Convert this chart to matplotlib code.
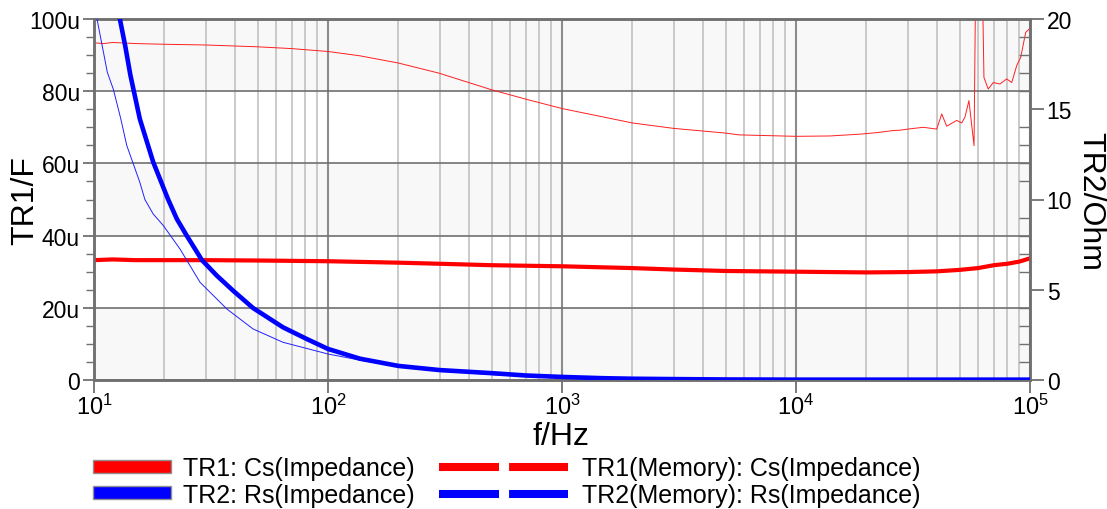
import numpy as np
import matplotlib
matplotlib.use('Agg')
import matplotlib.pyplot as plt
from matplotlib.patches import Patch
from matplotlib.lines import Line2D
from matplotlib.ticker import FixedLocator, FuncFormatter, LogLocator, NullFormatter

plt.rcParams['font.family'] = ['Liberation Sans', 'DejaVu Sans']
plt.rcParams['mathtext.fontset'] = 'custom'
plt.rcParams['mathtext.rm'] = 'Liberation Sans'
plt.rcParams['mathtext.it'] = 'Liberation Sans:italic'

# ---------------- data ----------------
# TR1: Cs(Impedance)  [uF]
cs_freq = [10, 12, 15, 20, 30, 50, 100, 200, 300, 500, 1000, 2000, 3000, 5000,
           10000, 20000, 30000, 40000, 50000, 60000, 70000, 80000, 90000, 100000]
cs_uF = [33.2, 33.4, 33.2, 33.2, 33.2, 33.1, 32.9, 32.5, 32.2, 31.8, 31.5, 31.0, 30.6, 30.2,
         30.0, 29.8, 29.9, 30.1, 30.5, 31.0, 31.8, 32.2, 32.8, 33.7]

# TR1(Memory): Cs(Impedance)  [uF]
mcs_freq = [10, 11, 12, 15, 20, 30, 50, 70, 100, 137, 200, 298, 500, 700, 1000, 2000, 3000,
            5000, 5700, 10000, 14000, 18770, 22000, 26060, 27800, 30000, 34990, 39930,
            41960, 44050, 48610, 51040, 52730, 54830, 57660, 59160, 61520, 63560, 66320,
            69660, 74410, 79510, 83560, 87760, 91280, 95860, 100000]
mcs_uF = [93.4, 93.2, 93.5, 93.2, 93.0, 92.8, 92.3, 91.8, 91.0, 89.8, 87.8, 85.0, 80.4, 77.8,
          75.2, 71.2, 69.7, 68.4, 67.9, 67.5, 67.6, 68.1, 68.5, 69.1, 69.2, 69.5, 70.0, 69.5,
          73.7, 70.3, 71.9, 71.2, 72.8, 77.4, 64.9, 140.0, 140.0, 83.8, 80.6, 82.4, 82.0,
          83.4, 82.4, 87.1, 89.4, 96.3, 97.4]

# TR2: Rs(Impedance)  [Ohm]
rs_freq = [10, 11.5, 12.9, 13.6, 14.3, 15.7, 17.9, 20.7, 22.6, 24.9, 28.9, 33.5, 39.3, 47.8,
           64.2, 81.2, 100, 137, 200, 300, 500, 700, 1000, 1500, 2000, 3000, 5000, 10000, 100000]
rs_ohm = [27.0, 23.0, 20.0, 18.5, 16.9, 14.46, 12.08, 10.03, 8.92, 8.0, 6.65, 5.78, 4.95, 3.99,
          2.92, 2.27, 1.72, 1.18, 0.78, 0.55, 0.38, 0.25, 0.17, 0.1, 0.07, 0.05, 0.03, 0.02, 0.02]

# TR2(Memory): Rs(Impedance)  [Ohm]
mrs_freq = [10, 10.3, 11.4, 12.1, 13.0, 13.8, 15.7, 16.5, 17.9, 19.8, 23.3, 28.4, 37.0, 47.8,
            64.2, 100, 137, 200, 300, 500, 1000, 2000, 5000, 10000, 100000]
mrs_ohm = [21.5, 20.0, 17.05, 16.1, 14.5, 13.0, 10.95, 10.0, 9.2, 8.55, 7.26, 5.41, 3.93, 2.83,
           2.09, 1.44, 1.1, 0.75, 0.5, 0.3, 0.12, 0.06, 0.03, 0.02, 0.02]

left_ticks_uF = [0, 20, 40, 60, 80, 100]
right_ticks = [0, 5, 10, 15, 20]
decades = [10, 100, 1000, 10000, 100000]
legend_labels = ['TR1: Cs(Impedance)', 'TR2: Rs(Impedance)',
                 'TR1(Memory): Cs(Impedance)', 'TR2(Memory): Rs(Impedance)']

# ---------------- figure ----------------
W, H = 1107, 510
fig = plt.figure(figsize=(W / 100, H / 100), dpi=100)
L, R, T, B = 94, 1030, 20, 381
ax = fig.add_axes([L / W, 1 - B / H, (R - L) / W, (B - T) / H])
ax.set_xscale('log')
ax.set_xlim(10, 1e5)
ax.set_ylim(0, 100e-6)

# alternating background bands
for lo in (0, 40e-6, 80e-6):
    ax.axhspan(lo, lo + 20e-6, color='#f8f8f8', zorder=0, lw=0)

# grid
ax.xaxis.set_major_locator(FixedLocator(decades))
ax.xaxis.set_minor_locator(LogLocator(base=10, subs=np.arange(2, 10)))
ax.xaxis.set_minor_formatter(NullFormatter())
ax.grid(True, which='major', axis='x', color='#8c8c8c', lw=1.5, zorder=1)
ax.grid(True, which='minor', axis='x', color='#bcbcbc', lw=1.1, zorder=1)
ax.grid(True, which='major', axis='y', color='#707070', lw=1.2, zorder=1)
ax.set_axisbelow(True)

# left axis ticks
ax.yaxis.set_major_locator(FixedLocator([v * 1e-6 for v in left_ticks_uF]))
ax.yaxis.set_minor_locator(FixedLocator([v * 1e-6 for v in range(0, 101, 5)]))
ax.yaxis.set_major_formatter(FuncFormatter(lambda v, p: '0' if abs(v) < 1e-9 else f'{v * 1e6:.0f}u'))
ax.xaxis.set_major_formatter(FuncFormatter(lambda v, p: r'$\mathregular{10^{%d}}$' % round(np.log10(v))))

tick_color = '#707070'
ax.tick_params(axis='y', which='major', direction='out', length=8, width=1.3,
               color=tick_color, labelsize=16.5, pad=2)
ax.tick_params(axis='y', which='minor', direction='out', length=6, width=1.0, color=tick_color)
ax.tick_params(axis='x', which='major', direction='out', length=9, width=1.3,
               color=tick_color, labelsize=17, pad=1)
ax.tick_params(axis='x', which='minor', length=0)

for s in ax.spines.values():
    s.set_color('#707070')
    s.set_linewidth(1.8)

# red traces (left axis)
ax.plot(np.array(mcs_freq), np.array(mcs_uF) * 1e-6, color='#ff2020', lw=0.7, zorder=3)
ax.plot(np.array(cs_freq), np.array(cs_uF) * 1e-6, color='#ff0000', lw=3.0, zorder=4)

# right axis
ax2 = ax.twinx()
ax2.set_ylim(0, 20)
ax2.yaxis.set_major_locator(FixedLocator(right_ticks))
ax2.yaxis.set_minor_locator(FixedLocator(list(range(0, 21))))
ax2.yaxis.set_major_formatter(FuncFormatter(lambda v, p: f'{v:.0f}'))
ax2.tick_params(axis='y', which='major', direction='out', length=10, width=1.3,
                color=tick_color, labelsize=16.5, pad=2)
ax2.tick_params(axis='y', which='minor', direction='in', length=8, width=1.0, color=tick_color)
for s in ax2.spines.values():
    s.set_color('#707070')
    s.set_linewidth(1.8)

ax2.plot(mrs_freq, mrs_ohm, color='#2020ff', lw=0.7, zorder=3)
ax2.plot(rs_freq, rs_ohm, color='#0000ff', lw=3.3, zorder=4)

# axis labels
fig.text(25 / W, 1 - 201 / H, 'TR1/F', rotation=90, ha='center', va='center', fontsize=23)
fig.text(1090 / W, 1 - 202 / H, 'TR2/Ohm', rotation=270, ha='center', va='center', fontsize=23)
fig.text(561 / W, 1 - 437 / H, 'f/Hz', ha='center', va='center', fontsize=23)

# legend (two columns)
leg_fs = 18
em = leg_fs * 100 / 72.0
h_left = [Patch(facecolor='#ff0000', edgecolor='#909090', lw=1.0),
          Patch(facecolor='#0000ff', edgecolor='#909090', lw=1.0)]
dash_lw = 5.8
h_right = [Line2D([], [], color='#ff0000', lw=dash_lw, solid_capstyle='butt',
                  dash_capstyle='butt', linestyle=(0, (7.45, 1.25))),
           Line2D([], [], color='#0000ff', lw=dash_lw, solid_capstyle='butt',
                  dash_capstyle='butt', linestyle=(0, (7.45, 1.25)))]
yc = 1 - 482.5 / H
leg1 = fig.legend(h_left, legend_labels[:2], loc='center left', bbox_to_anchor=(93 / W, yc),
                  frameon=False, fontsize=leg_fs, handlelength=78 / em, handleheight=11 / em,
                  handletextpad=12 / em, labelspacing=0.1, borderpad=0, borderaxespad=0)
leg2 = fig.legend(h_right, legend_labels[2:], loc='center left', bbox_to_anchor=(439 / W, yc),
                  frameon=False, fontsize=leg_fs, handlelength=129 / em, handleheight=11 / em,
                  handletextpad=14 / em, labelspacing=0.1, borderpad=0, borderaxespad=0)

fig.savefig('out.png', dpi=100, facecolor='white')
